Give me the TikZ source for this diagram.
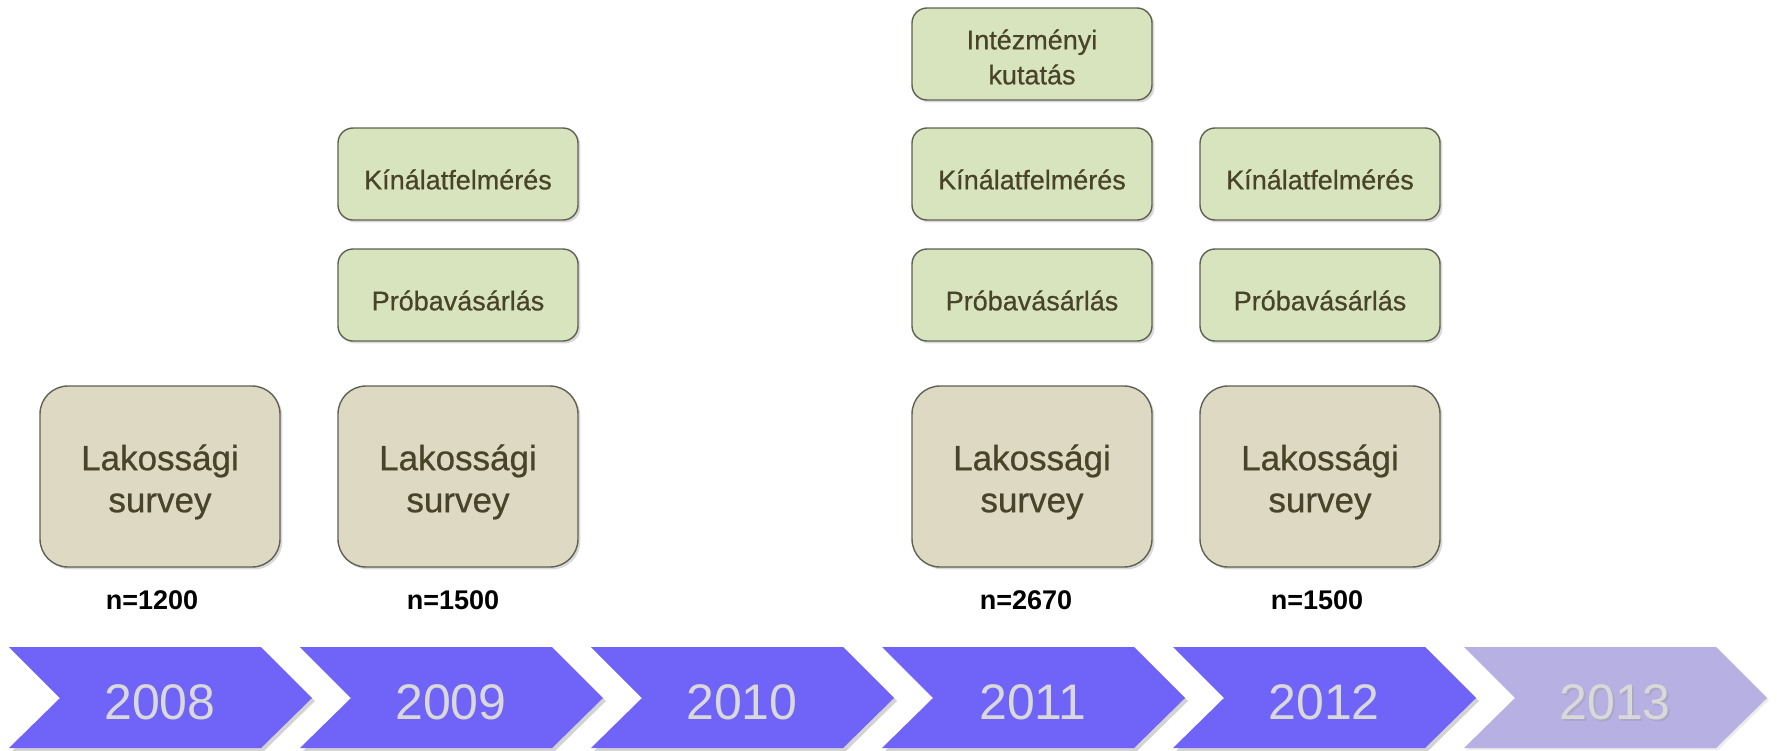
\documentclass[tikz,border=0pt]{standalone}
\usepackage{fontspec}
\setmainfont{Liberation Sans}
\newfontfamily\boxfont{Liberation Sans}[FakeBold=0.6]
\usetikzlibrary{shadows}

\definecolor{chevblue}{RGB}{112,99,247}
\definecolor{chevpale}{RGB}{183,176,226}
\definecolor{yeargray}{RGB}{217,217,217}
\definecolor{tanfill}{RGB}{221,217,195}
\definecolor{greenfill}{RGB}{215,228,189}
\definecolor{boxtext}{RGB}{73,68,41}
\definecolor{boxline}{RGB}{96,96,84}

% struts that push two-line texts down a little
\newcommand{\liftbig}{\rule{0pt}{18.3pt}}
\newcommand{\liftsmall}{\rule{0pt}{13pt}}

\tikzset{
    chevron/.style={fill=chevblue, drop shadow={shadow xshift=1.5pt, shadow yshift=-1.5pt, opacity=0.35}},
    chevronpale/.style={fill=chevpale, drop shadow={shadow xshift=1pt, shadow yshift=-1pt, opacity=0.15}},
    year/.style={text=yeargray, yshift=-2pt, font=\fontsize{25}{25}\selectfont},
    bigbox/.style={draw=boxline, line width=0.7pt, fill=tanfill, rounded corners=14pt,
        minimum width=120pt, minimum height=90.5pt, text=boxtext, align=center,
        font=\boxfont\fontsize{17.5}{21}\selectfont,
        drop shadow={shadow xshift=1.2pt, shadow yshift=-1.2pt, opacity=0.3}},
    smallbox/.style={draw=boxline, line width=0.7pt, fill=greenfill, rounded corners=7.5pt,
        minimum width=120pt, minimum height=46pt, text=boxtext, align=center,
        font=\boxfont\fontsize{13.5}{17.5}\selectfont,
        execute at begin node={\rule{0pt}{15.5pt}},
        drop shadow={shadow xshift=1.2pt, shadow yshift=-1.2pt, opacity=0.3}},
    nlabel/.style={font=\bfseries\fontsize{13.5}{13.5}\selectfont}
}

\begin{document}
\begin{tikzpicture}[x=0.5pt, y=-0.5pt]
        \useasboundingbox (0,0) rectangle (1777,750);

        \coordinate (Y08) at (160,698);
        \coordinate (Y09) at (451,698);
        \coordinate (Y10) at (742,698);
        \coordinate (Y11) at (1033,698);
        \coordinate (Y12) at (1324,698);
        \coordinate (Y13) at (1615,698);

        \fill[chevron] (Y08) ++(-151,-51) -- ++(252,0) -- ++(51,51) -- ++(-51,50) -- ++(-252,0) -- ++(51,-50) -- cycle;
        \fill[chevron] (Y09) ++(-151,-51) -- ++(252,0) -- ++(51,51) -- ++(-51,50) -- ++(-252,0) -- ++(51,-50) -- cycle;
        \fill[chevron] (Y10) ++(-151,-51) -- ++(252,0) -- ++(51,51) -- ++(-51,50) -- ++(-252,0) -- ++(51,-50) -- cycle;
        \fill[chevron] (Y11) ++(-151,-51) -- ++(252,0) -- ++(51,51) -- ++(-51,50) -- ++(-252,0) -- ++(51,-50) -- cycle;
        \fill[chevron] (Y12) ++(-151,-51) -- ++(252,0) -- ++(51,51) -- ++(-51,50) -- ++(-252,0) -- ++(51,-50) -- cycle;
        \fill[chevronpale] (Y13) ++(-151,-51) -- ++(252,0) -- ++(51,51) -- ++(-51,50) -- ++(-252,0) -- ++(51,-50) -- cycle;

        \node[year] (y2008) at (Y08) {2008};
        \node[year] (y2009) at (Y09) {2009};
        \node[year] (y2010) at (Y10) {2010};
        \node[year] (y2011) at (Y11) {2011};
        \node[year] (y2012) at (Y12) {2012};
        \node[year, text=black!40, opacity=0.35, xshift=1pt, yshift=-1pt] at (Y13) {2013};
        \node[year] (y2013) at (Y13) {2013};

        \node[bigbox] (lak08) at (160,476.5) {\liftbig Lakossági\\survey};
        \node[bigbox] (lak09) at (458,476.5) {\liftbig Lakossági\\survey};
        \node[bigbox] (lak11) at (1032,476.5) {\liftbig Lakossági\\survey};
        \node[bigbox] (lak12) at (1320,476.5) {\liftbig Lakossági\\survey};

        \node[smallbox] (kin09) at (458,174) {Kínálatfelmérés};
        \node[smallbox] (pro09) at (458,295) {Próbavásárlás};
        \node[smallbox] (int11) at (1032,54) {\liftsmall Intézményi\\kutatás};
        \node[smallbox] (kin11) at (1032,174) {Kínálatfelmérés};
        \node[smallbox] (pro11) at (1032,295) {Próbavásárlás};
        \node[smallbox] (kin12) at (1320,174) {Kínálatfelmérés};
        \node[smallbox] (pro12) at (1320,295) {Próbavásárlás};

        \node[nlabel] (n08) at (152,600) {n=1200};
        \node[nlabel] (n09) at (453,600) {n=1500};
        \node[nlabel] (n11) at (1026,600) {n=2670};
        \node[nlabel] (n12) at (1317,600) {n=1500};
    \end{tikzpicture}
\end{document}
